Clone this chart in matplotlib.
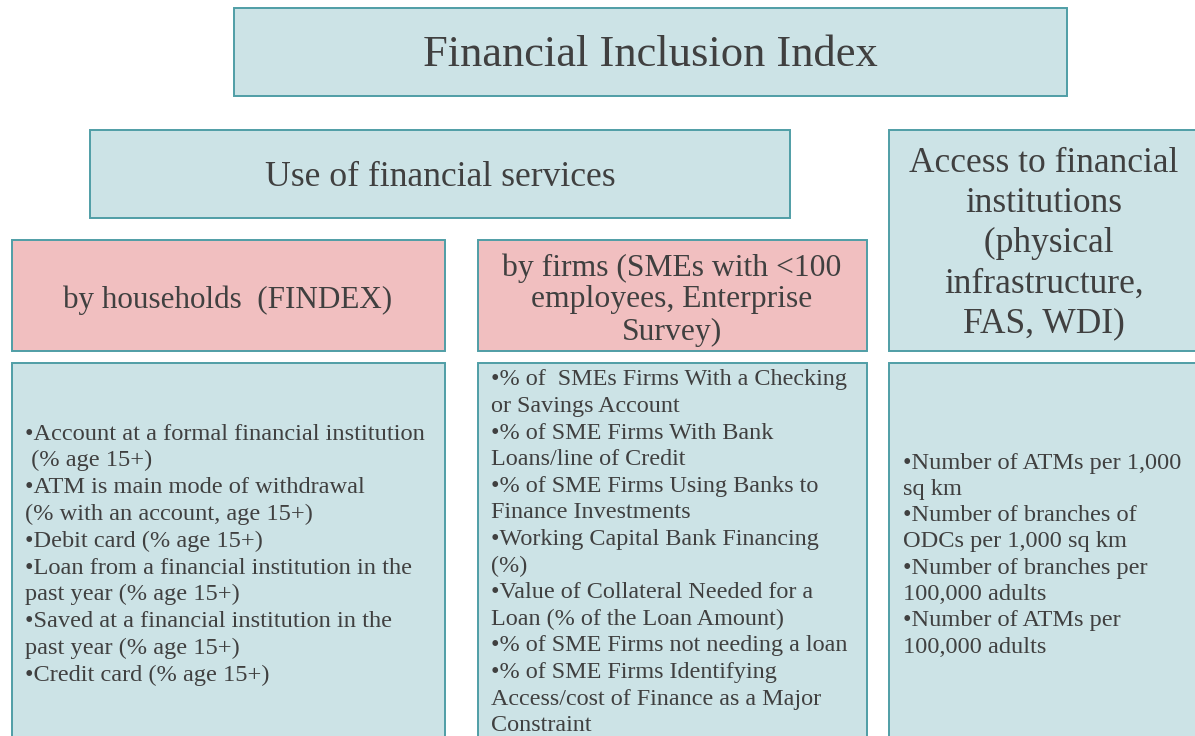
import matplotlib.pyplot as plt
from matplotlib.patches import Rectangle

W, H = 1195, 736
FILL = "#cce3e6"
PINK = "#f1bfc0"
EDGE = "#4f9ea6"
TXT = "#404040"
FONT = "Liberation Serif"

title = "Financial Inclusion Index"
use_title = "Use of financial services"
access_title = ["Access to financial", "institutions", " (physical", "infrastructure,", "FAS, WDI)"]
house_title = ["by households  (FINDEX)"]
firm_title = ["by firms (SMEs with <100", "employees, Enterprise", "Survey)"]

house_items = [
    "•Account at a formal financial institution",
    " (% age 15+)",
    "•ATM is main mode of withdrawal",
    "(% with an account, age 15+)",
    "•Debit card (% age 15+)",
    "•Loan from a financial institution in the",
    "past year (% age 15+)",
    "•Saved at a financial institution in the",
    "past year (% age 15+)",
    "•Credit card (% age 15+)",
]
firm_items = [
    "•% of  SMEs Firms With a Checking",
    "or Savings Account",
    "•% of SME Firms With Bank",
    "Loans/line of Credit",
    "•% of SME Firms Using Banks to",
    "Finance Investments",
    "•Working Capital Bank Financing",
    "(%)",
    "•Value of Collateral Needed for a",
    "Loan (% of the Loan Amount)",
    "•% of SME Firms not needing a loan",
    "•% of SME Firms Identifying",
    "Access/cost of Finance as a Major",
    "Constraint",
]
access_items = [
    "•Number of ATMs per 1,000",
    "sq km",
    "•Number of branches of",
    "ODCs per 1,000 sq km",
    "•Number of branches per",
    "100,000 adults",
    "•Number of ATMs per",
    "100,000 adults",
]

fig = plt.figure(figsize=(W / 100, H / 100), dpi=100)
ax = fig.add_axes([0, 0, 1, 1])
ax.set_xlim(0, W)
ax.set_ylim(H, 0)
ax.axis("off")


def box(x0, y0, x1, y1, color):
    ax.add_patch(Rectangle((x0, y0), x1 - x0, y1 - y0, facecolor=color,
                           edgecolor=EDGE, linewidth=1.4))


def lines(x, y0, step, items, size, ha="left"):
    for i, s in enumerate(items):
        ax.text(x, y0 + i * step, s, ha=ha, va="center", fontsize=size,
                color=TXT, family=FONT)


# header boxes
box(234, 8, 1067, 96, FILL)
lines(650, 55, 0, [title], 32, ha="center")

box(90, 130, 790, 218, FILL)
lines(440, 177, 0, [use_title], 25.7, ha="center")

box(889, 130, 1197, 351, FILL)
lines(1044, 163, 40.3, access_title, 25.5, ha="center")

box(12, 240, 445, 351, PINK)
lines(228, 300, 0, house_title, 22.4, ha="center")

box(478, 240, 867, 351, PINK)
lines(672, 268, 32, firm_title, 22.8, ha="center")

# content boxes
box(12, 363, 445, 740, FILL)
lines(25, 434, 26.8, house_items, 17.6)

box(478, 363, 867, 740, FILL)
lines(491, 380, 26.6, firm_items, 17.4)

box(889, 363, 1197, 740, FILL)
lines(903, 463, 26.3, access_items, 17.6)

fig.savefig("out.png", dpi=100)
